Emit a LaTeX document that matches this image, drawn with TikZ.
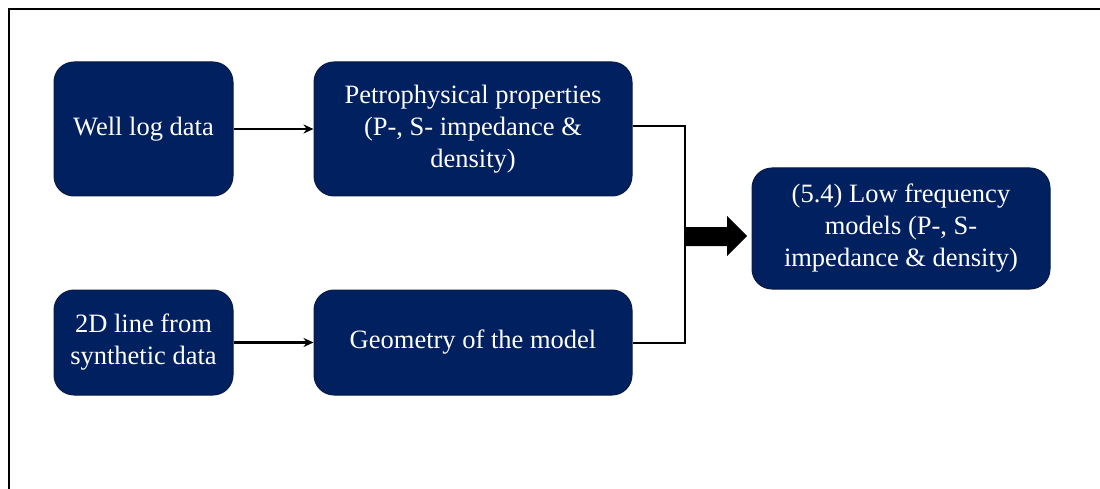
\documentclass[tikz,border=0pt]{standalone}
\usepackage{fontspec}
\setmainfont{Liberation Serif}
\usetikzlibrary{arrows.meta}
\definecolor{navybox}{HTML}{002060}
\definecolor{navyedge}{HTML}{0A1A40}
\tikzset{
  box/.style={draw=navyedge, line width=1pt, fill=navybox, rounded corners=20pt,
    text=white, align=center, inner sep=0pt,
    font=\fontsize{26.5}{32}\selectfont},
  thinarrow/.style={line width=2.3pt, -{Stealth[length=10pt,width=9pt]}},
  link/.style={line width=2.3pt},
}
\begin{document}
\begin{tikzpicture}[x=1pt,y=-1pt]
\useasboundingbox (0,0) rectangle (1100,489);
\begin{scope}
\clip (0,0) rectangle (1100,489);
\draw[line width=2.5pt] (9,9) rectangle (1120,510);
\end{scope}
\node[box, minimum width=179pt, minimum height=134pt] (wl) at (143.5,129) {Well log data};
\node[box, minimum width=318pt, minimum height=134pt] (pp) at (473,129) {Petrophysical properties\\(P-, S- impedance \&\\density)};
\node[box, minimum width=179pt, minimum height=105pt] (l2d) at (143.5,342.5) {2D line from\\synthetic data};
\node[box, minimum width=318pt, minimum height=105pt] (geo) at (473,342.5) {Geometry of the model};
\node[box, minimum width=298pt, minimum height=121pt] (lf) at (901,228.5) {(5.4) Low frequency\\models (P-, S-\\impedance \& density)};
\draw[thinarrow] (wl.east) -- (pp.west);
\draw[thinarrow] (l2d.east) -- (geo.west);
\coordinate (j) at (685,236);
\draw[link] (pp.east |- 0,126) -- (685,126) -- (685,343) -- (geo.east |- 0,343);
\fill (j |- 0,227) -- (727,227) -- (727,216) -- (747,236) -- (727,256) -- (727,246) -- (j |- 0,246) -- cycle;
\end{tikzpicture}
\end{document}
